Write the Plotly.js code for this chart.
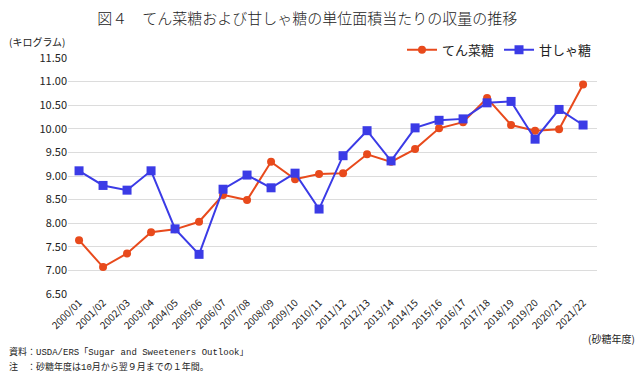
<!DOCTYPE html>
<html><head><meta charset="utf-8">
<script src="https://cdn.plot.ly/plotly-3.0.1.min.js"></script>
<style>html,body{margin:0;padding:0;background:#fff}#c{width:640px;height:376px}</style>
</head><body><div id="c"></div>
<script>
const years = ["2000/01","2001/02","2002/03","2003/04","2004/05","2005/06","2006/07","2007/08","2008/09","2009/10","2010/11","2011/12","2012/13","2013/14","2014/15","2015/16","2016/17","2017/18","2018/19","2019/20","2020/21","2021/22"];
const beet = [7.64,7.07,7.36,7.81,7.87,8.03,8.60,8.49,9.30,8.93,9.04,9.06,9.46,9.30,9.57,10.01,10.14,10.65,10.08,9.96,9.99,10.94];
const cane = [9.11,8.80,8.70,9.11,7.88,7.34,8.72,9.02,8.75,9.06,8.30,9.43,9.96,9.32,10.02,10.18,10.21,10.55,10.58,9.78,10.41,10.08];
const yTicks = [6.5,7,7.5,8,8.5,9,9.5,10,10.5,11,11.5];

const F = '"Noto Sans CJK JP", "Noto Sans", sans-serif';
const M = '"Liberation Mono", "Noto Sans CJK JP", monospace';
const traces = [
  {x: years, y: beet, name: 'てん菜糖', type: 'scatter', mode: 'lines+markers',
   line: {color: '#e84a1c', width: 2}, marker: {symbol: 'circle', size: 8, color: '#e84a1c'}},
  {x: years, y: cane, name: '甘しゃ糖', type: 'scatter', mode: 'lines+markers',
   line: {color: '#3b3be6', width: 2}, marker: {symbol: 'square', size: 9, color: '#3b3be6'}}
];
const layout = {
  width: 640, height: 376,
  margin: {l: 68, r: 43, t: 58, b: 82},
  paper_bgcolor: '#fff', plot_bgcolor: '#fff',
  font: {family: F, color: '#222', size: 11},
  title: {text: '図４　てん菜糖および甘しゃ糖の単位面積当たりの収量の推移', x: 0.48, xanchor: 'center', y: 0.95, yanchor: 'middle', font: {size: 15, color: '#222', family: F, weight: 300}},
  showlegend: true,
  legend: {orientation: 'h', x: 1.0, xanchor: 'right', y: 1.035, yanchor: 'middle', font: {size: 13, family: F}, itemwidth: 30, tracegroupgap: 0, bgcolor: 'rgba(0,0,0,0)'},
  xaxis: {type: 'category', range: [-0.46, 21.58], tickangle: -45, showgrid: false, showline: false, ticks: '', tickfont: {size: 10, family: F}, zeroline: false},
  yaxis: {range: [6.5, 11.5], tickvals: yTicks, ticktext: yTicks.map(v => v.toFixed(2)), showgrid: true, gridcolor: '#dcdcdc', gridwidth: 1, zeroline: false, showline: false, ticks: '', ticklen: 0, tickfont: {size: 11, family: F}, automargin: false},
  annotations: [
    {text: '(キログラム)', xref: 'paper', yref: 'paper', x: -0.115, xanchor: 'left', y: 1.07, yanchor: 'middle', showarrow: false, font: {size: 10, family: F}},
    {text: '(砂糖年度)', xref: 'paper', yref: 'paper', x: 1.075, xanchor: 'right', y: -0.19, yanchor: 'middle', showarrow: false, font: {size: 10, family: F}},
    {text: '資料：USDA/ERS「Sugar and Sweeteners Outlook」', xref: 'paper', yref: 'paper', x: -0.115, xanchor: 'left', y: -0.245, yanchor: 'middle', showarrow: false, font: {size: 9, family: M}},
    {text: '注　：砂糖年度は10月から翌９月までの１年間。', xref: 'paper', yref: 'paper', x: -0.115, xanchor: 'left', y: -0.31, yanchor: 'middle', showarrow: false, font: {size: 9, family: M}}
  ]
};
Plotly.newPlot('c', traces, layout, {displayModeBar: false, staticPlot: true});
</script></body></html>
